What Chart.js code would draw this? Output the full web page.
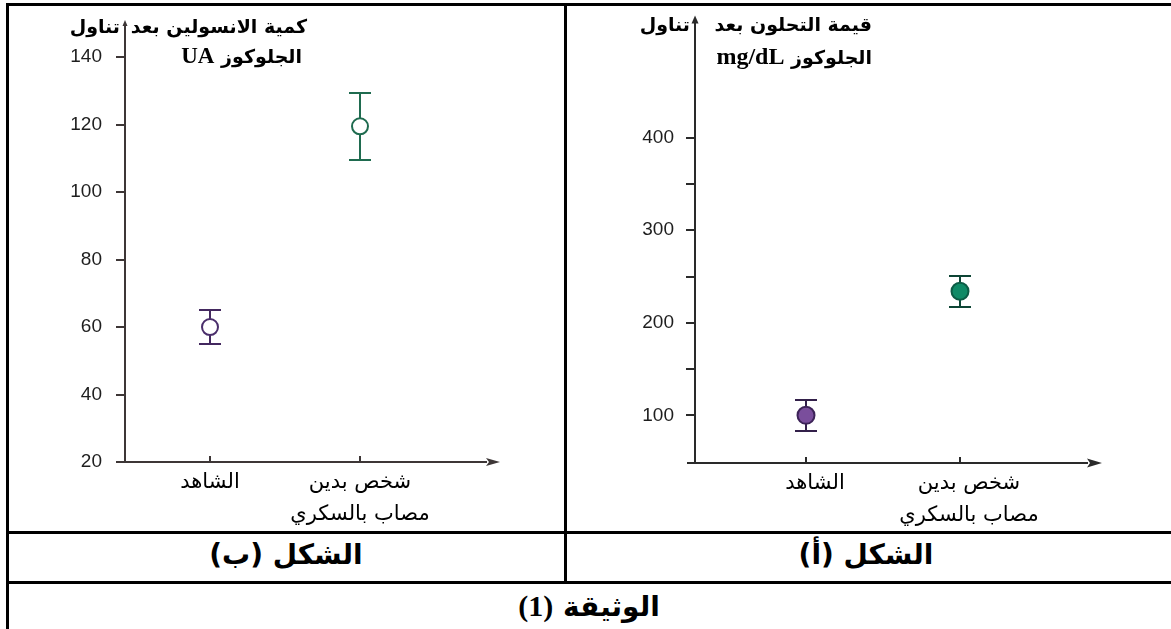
<!DOCTYPE html>
<html><head><meta charset="utf-8">
<script src="https://cdn.jsdelivr.net/npm/chart.js@4.4.0/dist/chart.umd.min.js"></script>
<style>
html,body{margin:0;padding:0;background:#fff;}
#page{position:relative;width:1171px;height:629px;overflow:hidden;background:#fff;}
.ln{position:absolute;background:#000;}
canvas{position:absolute;}
.t{position:absolute;white-space:nowrap;direction:rtl;font-family:'DejaVu Sans',sans-serif;font-weight:bold;color:#000;}
.lat{font-family:'Liberation Serif',serif;font-weight:bold;}
</style></head>
<body>
<div id="page">
  <div class="ln" style="left:6px;top:3px;width:1165px;height:3px"></div>
  <div class="ln" style="left:6px;top:3px;width:3px;height:626px"></div>
  <div class="ln" style="left:564px;top:3px;width:3px;height:580px"></div>
  <div class="ln" style="left:6px;top:531px;width:1165px;height:3px"></div>
  <div class="ln" style="left:6px;top:581px;width:1165px;height:3px"></div>

  <canvas id="cL" width="556" height="526" style="left:8px;top:5px"></canvas>
  <canvas id="cR" width="599" height="526" style="left:567px;top:5px"></canvas>

  <div class="t" style="right:864px;top:14px;font-size:19px;line-height:24px;">كمية الانسولين بعد</div>
  <div class="t" style="right:1051px;top:14px;font-size:19px;line-height:24px;">تناول</div>
  <div class="t" style="right:869px;top:44px;font-size:19px;line-height:24px;">الجلوكوز <span class="lat" style="font-size:23px">UA</span></div>

  <div class="t" style="right:299px;top:12px;font-size:19px;line-height:24px;">قيمة التحلون بعد</div>
  <div class="t" style="right:481px;top:12px;font-size:19px;line-height:24px;">تناول</div>
  <div class="t" style="right:299px;top:44px;font-size:19px;line-height:24px;">الجلوكوز <span class="lat" style="font-size:24px">mg/dL</span></div>

  <div class="t" style="left:7px;width:558px;text-align:center;top:536px;font-size:28px;line-height:38px;">الشكل (ب)</div>
  <div class="t" style="left:566px;width:600px;text-align:center;top:536px;font-size:28px;line-height:38px;">الشكل (أ)</div>
  <div class="t" style="left:7px;width:1164px;text-align:center;top:587px;font-size:28px;line-height:38px;">الوثيقة <span class="lat" style="font-size:30px">(1)</span></div>
</div>
<script>
// ---- data ----
const categories = ['الشاهد', ['شخص بدين', 'مصاب بالسكري']];
const catPos = [1, 2];
const insulinMean = [60, 119.5];
const insulinErr = [5, 10];
const glucoseMean = [100, 234];
const glucoseErr = [17, 17];
const insulinTicks = [20, 40, 60, 80, 100, 120, 140];
const insulinTickLabels = ['20', '40', '60', '80', '100', '120', '140'];
const glucoseTicks = [100, 150, 200, 250, 300, 350, 400];
const glucoseTickLabels = ['100', '', '200', '', '300', '', '400'];

function makeAxes(cfg) {
  return {
    id: 'axes_' + cfg.name,
    beforeDatasetsDraw(chart) {
      const {ctx, chartArea: ca, scales} = chart;
      const x = scales.x, y = scales.y;
      ctx.save();
      ctx.lineWidth = 2;
      ctx.strokeStyle = cfg.axisColor; ctx.fillStyle = cfg.axisColor;
      const line = (a, b, c, d) => { ctx.beginPath(); ctx.moveTo(a, b); ctx.lineTo(c, d); ctx.stroke(); };
      // y axis + arrow
      line(ca.left, ca.bottom + 1, ca.left, ca.top + cfg.yArrowLen - 1);
      ctx.beginPath();
      ctx.moveTo(ca.left, ca.top);
      ctx.lineTo(ca.left - cfg.yArrowW, ca.top + cfg.yArrowLen);
      ctx.lineTo(ca.left + cfg.yArrowW, ca.top + cfg.yArrowLen);
      ctx.closePath(); ctx.fill();
      // x axis + arrow
      line(ca.left - cfg.xExt, ca.bottom, ca.right - cfg.xArrowLen + 1, ca.bottom);
      ctx.beginPath();
      ctx.moveTo(ca.right, ca.bottom);
      ctx.lineTo(ca.right - cfg.xArrowLen, ca.bottom - cfg.xArrowW);
      ctx.lineTo(ca.right - cfg.xArrowLen + 3, ca.bottom);
      ctx.lineTo(ca.right - cfg.xArrowLen, ca.bottom + cfg.xArrowW);
      ctx.closePath(); ctx.fill();
      // y ticks
      cfg.yTicks.forEach(v => { const p = Math.round(y.getPixelForValue(v)); line(ca.left - 9, p, ca.left, p); });
      // x ticks (inside)
      catPos.forEach(v => { const p = Math.round(x.getPixelForValue(v)); line(p, ca.bottom, p, ca.bottom - 6); });
      // error bars
      cfg.means.forEach((m, i) => {
        const px = Math.round(x.getPixelForValue(catPos[i]));
        const top = Math.round(y.getPixelForValue(m + cfg.errs[i]));
        const bot = Math.round(y.getPixelForValue(m - cfg.errs[i]));
        ctx.strokeStyle = cfg.errColors[i];
        line(px, top, px, bot);
        line(px - 11, top, px + 11, top);
        line(px - 11, bot, px + 11, bot);
      });
      ctx.restore();
    }
  };
}

function makeChart(id, c) {
  const data = c.means.map((m, i) => ({x: catPos[i], y: m}));
  return new Chart(document.getElementById(id), {
    type: 'scatter',
    data: { datasets: [{
      data: data,
      pointRadius: c.radius,
      pointHoverRadius: c.radius,
      pointBorderWidth: 2,
      pointBackgroundColor: c.fill,
      pointBorderColor: c.stroke,
      showLine: false
    }]},
    options: {
      responsive: false,
      animation: false,
      devicePixelRatio: 1,
      events: [],
      layout: { padding: { left: 0, top: c.padTop, right: c.padRight, bottom: 0 } },
      plugins: { legend: {display: false}, tooltip: {enabled: false} },
      scales: {
        x: {
          type: 'linear', min: c.xMin, max: c.xMax,
          grid: {display: false}, border: {display: false},
          afterBuildTicks: s => { s.ticks = catPos.map(v => ({value: v})); },
          afterFit: s => { s.height = c.xHeight; s.paddingLeft = 0; s.paddingRight = 0; },
          ticks: {
            autoSkip: false, maxRotation: 0, padding: c.xPad, labelOffset: c.labelOffset,
            color: '#000',
            font: {family: "'DejaVu Sans', sans-serif", size: 21, lineHeight: 32 / 21},
            callback: (v, i) => categories[i]
          }
        },
        y: {
          type: 'linear', min: c.yMin, max: c.yMax,
          grid: {display: false}, border: {display: false},
          afterBuildTicks: s => { s.ticks = c.yTicks.map(v => ({value: v})); },
          afterFit: s => { s.width = c.yWidth; s.paddingTop = 0; s.paddingBottom = 0; },
          ticks: {
            padding: c.yPad, color: '#1e1e1e',
            font: {family: "'Liberation Sans', Arial, sans-serif", size: 19},
            callback: (v, i) => c.yLabels[i]
          }
        }
      }
    },
    plugins: [makeAxes(c)]
  });
}

makeChart('cL', {
  name: 'L', means: insulinMean, errs: insulinErr,
  yTicks: insulinTicks, yLabels: insulinTickLabels,
  yMin: 20, yMax: 151, xMin: 1 - 85 / 150, xMax: 2 + 140 / 150,
  padTop: 15, padRight: 64, xHeight: 69, yWidth: 117,
  xPad: -3, yPad: 15, labelOffset: 0,
  radius: 8, fill: ['#ffffff', '#ffffff'], stroke: ['#4a2e6b', '#1f6b4f'],
  errColors: ['#43285f', '#1f6b4f'], axisColor: '#3d3636',
  yArrowLen: 6, yArrowW: 2.5, xArrowLen: 14, xArrowW: 4, xExt: 0
});

makeChart('cR', {
  name: 'R', means: glucoseMean, errs: glucoseErr,
  yTicks: glucoseTicks, yLabels: glucoseTickLabels,
  yMin: 48.5, yMax: 532, xMin: 1 - 111 / 154, xMax: 2 + 142 / 154,
  padTop: 8, padRight: 64, xHeight: 68, yWidth: 128,
  xPad: -3, yPad: 13, labelOffset: 9,
  radius: 8.5, fill: ['#7a4e9c', '#0f8a66'], stroke: ['#3d2358', '#0c5c45'],
  errColors: ['#33204a', '#0e4535'], axisColor: '#2a2a2a',
  yArrowLen: 8, yArrowW: 3.5, xArrowLen: 15, xArrowW: 4.5, xExt: 8
});
</script>
</body></html>
